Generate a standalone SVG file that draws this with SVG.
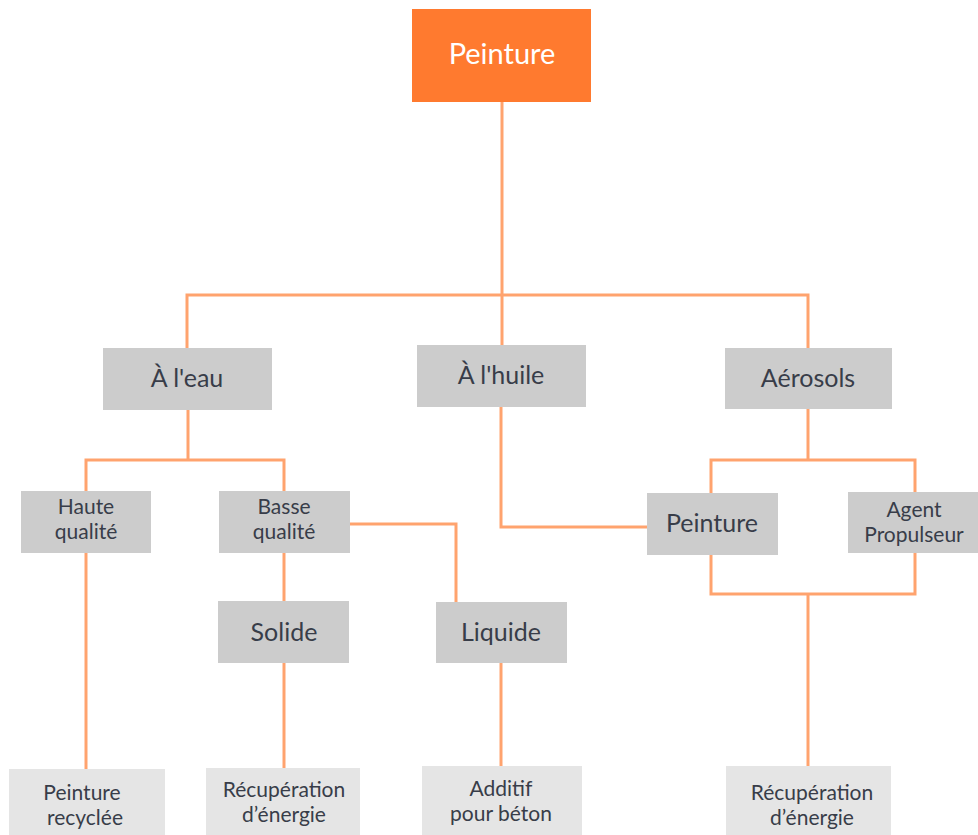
<svg xmlns="http://www.w3.org/2000/svg" width="978" height="835" viewBox="0 0 978 835">
<style>
.c{fill:none;stroke:#FFA36E;stroke-width:3}
.n{fill:#CCCCCC}
.l{fill:#E5E5E5}
.t{font-family:Lato,"Open Sans",sans-serif;font-size:25px;fill:#383D49;text-anchor:middle}
.s{font-size:21px}
.top{font-family:Lato,"Open Sans",sans-serif;font-size:29px;fill:#FFFFFF;text-anchor:middle}
</style>
<rect width="978" height="835" fill="#FFFFFF"/>
<g id="connectors">
<path class="c" d="M502,102 V295"/>
<path class="c" d="M187,348 V295 H808 V348"/>
<path class="c" d="M502,295 V345"/>
<path class="c" d="M188,410 V460"/>
<path class="c" d="M86,491 V460 H284 V491"/>
<path class="c" d="M86,553 V769"/>
<path class="c" d="M284,553 V601"/>
<path class="c" d="M284,663 V768"/>
<path class="c" d="M350,524 H456 V602"/>
<path class="c" d="M501,663 V766"/>
<path class="c" d="M501,407 V527 H647"/>
<path class="c" d="M808,409 V460"/>
<path class="c" d="M711,493 V460 H915 V492"/>
<path class="c" d="M711,555 V594 H915 V553"/>
<path class="c" d="M808,594 V766"/>
</g>
<g id="n-peinture-root">
<rect x="412" y="9" width="179" height="93" fill="#FF7A2F"/>
<text class="top" x="502" y="64">Peinture</text>
</g>
<g id="n-eau">
<rect class="n" x="103" y="348" width="169" height="62"/>
<text class="t" x="187" y="387">À l'eau</text>
</g>
<g id="n-huile">
<rect class="n" x="417" y="345" width="169" height="62"/>
<text class="t" x="501" y="384">À l'huile</text>
</g>
<g id="n-aerosols">
<rect class="n" x="725" y="348" width="167" height="61"/>
<text class="t" x="808" y="387">Aérosols</text>
</g>
<g id="n-haute">
<rect class="n" x="21" y="491" width="130" height="62"/>
<text class="t s" x="86" y="514">Haute</text>
<text class="t s" x="86" y="539">qualité</text>
</g>
<g id="n-basse">
<rect class="n" x="219" y="491" width="131" height="62"/>
<text class="t s" x="284" y="514">Basse</text>
<text class="t s" x="284" y="539">qualité</text>
</g>
<g id="n-peinture-aero">
<rect class="n" x="647" y="493" width="131" height="62"/>
<text class="t" x="712" y="532">Peinture</text>
</g>
<g id="n-agent">
<rect class="n" x="848" y="492" width="130" height="61"/>
<text class="t s" x="914" y="517">Agent</text>
<text class="t s" x="914" y="542">Propulseur</text>
</g>
<g id="n-solide">
<rect class="n" x="218" y="601" width="131" height="62"/>
<text class="t" x="284" y="641">Solide</text>
</g>
<g id="n-liquide">
<rect class="n" x="436" y="602" width="131" height="61"/>
<text class="t" x="501" y="641">Liquide</text>
</g>
<g id="n-recyclee">
<rect class="l" x="9" y="769" width="156" height="66"/>
<text class="t s" x="82" y="800">Peinture</text>
<text class="t s" x="85" y="825">recyclée</text>
</g>
<g id="n-recup-1">
<rect class="l" x="206" y="768" width="154" height="67"/>
<text class="t s" x="284" y="797">Récupération</text>
<text class="t s" x="284" y="822">d’énergie</text>
</g>
<g id="n-additif">
<rect class="l" x="422" y="766" width="160" height="69"/>
<text class="t s" x="501" y="796">Additif</text>
<text class="t s" x="501" y="821">pour béton</text>
</g>
<g id="n-recup-2">
<rect class="l" x="726" y="766" width="165" height="69"/>
<text class="t s" x="812" y="800">Récupération</text>
<text class="t s" x="812" y="825">d’énergie</text>
</g>
</svg>
